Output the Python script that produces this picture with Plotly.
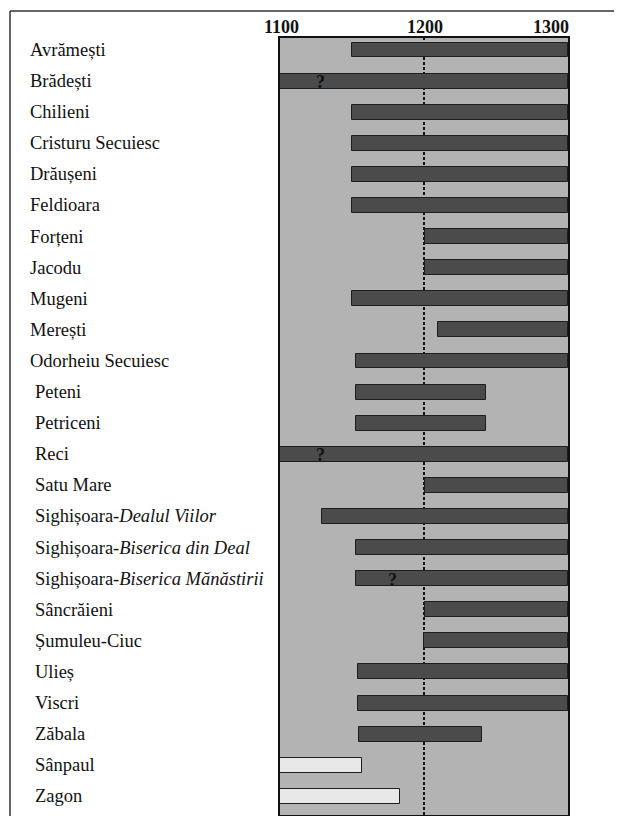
import plotly.graph_objects as go

# ---- data ----
sites = [
    "Avrămești", "Brădești", "Chilieni", "Cristuru Secuiesc", "Drăușeni",
    "Feldioara", "Forțeni", "Jacodu", "Mugeni", "Merești",
    "Odorheiu Secuiesc", "Peteni", "Petriceni", "Reci", "Satu Mare",
    "Sighișoara-Dealul Viilor", "Sighișoara-Biserica din Deal",
    "Sighișoara-Biserica Mănăstirii", "Sâncrăieni", "Șumuleu-Ciuc",
    "Ulieș", "Viscri", "Zăbala", "Sânpaul", "Zagon",
]
site_labels = [
    "Avrămești", "Brădești", "Chilieni", "Cristuru Secuiesc", "Drăușeni",
    "Feldioara", "Forțeni", "Jacodu", "Mugeni", "Merești",
    "Odorheiu Secuiesc", "Peteni", "Petriceni", "Reci", "Satu Mare",
    "Sighișoara-<i>Dealul Viilor</i>", "Sighișoara-<i>Biserica din Deal</i>",
    "Sighișoara-<i>Biserica Mănăstirii</i>", "Sâncrăieni", "Șumuleu-Ciuc",
    "Ulieș", "Viscri", "Zăbala", "Sânpaul", "Zagon",
]
start_year = [1150, 1100, 1150, 1150, 1150, 1150, 1201, 1201, 1150, 1210,
              1153, 1153, 1153, 1100, 1201, 1129, 1153, 1153, 1201, 1200,
              1154, 1154, 1155, 1100, 1100]
end_year = [1300, 1300, 1300, 1300, 1300, 1300, 1300, 1300, 1300, 1300,
            1300, 1243, 1243, 1300, 1300, 1300, 1300, 1300, 1300, 1300,
            1300, 1300, 1240, 1157, 1183]
group = ["dated"] * 23 + ["other", "other"]
uncertain_sites = ["Brădești", "Reci", "Sighișoara-Biserica Mănăstirii"]
uncertain_year = [1128, 1128, 1178]
tick_years = [1100, 1200, 1300]
tick_text = ["1100", "1200", "1300"]

# ---- styles ----
DARK = "#4b4b4b"
LIGHT = "#e8e8e8"
BG = "#b3b3b3"
SERIF = "Liberation Serif, Times New Roman, serif"

W, H = 614, 808          # page has 8px body margin
L, T, PW, PH = 272, 30, 288, 777

colors = [DARK if g == "dated" else LIGHT for g in group]
durations = [e - s for s, e in zip(start_year, end_year)]

fig = go.Figure()
fig.add_trace(go.Bar(
    y=sites, x=durations, base=start_year, orientation="h",
    marker=dict(color=colors, line=dict(color="#1e1e1e", width=1)),
    width=0.48, hoverinfo="skip", showlegend=False,
))

# vertical dotted line at 1200
fig.add_shape(type="line", xref="x", yref="paper", x0=1200, x1=1200, y0=0, y1=1,
              line=dict(color="#111111", width=2, dash="3px,2px"), layer="below")

# outer frame (top and left lines)
fx = (2 - L) / PW
fy = 1 + (T - 3) / PH
fig.add_shape(type="line", xref="paper", yref="paper", x0=fx, x1=1.3,
              y0=fy, y1=fy, line=dict(color="#333333", width=1.5))
fig.add_shape(type="line", xref="paper", yref="paper", x0=fx, x1=fx,
              y0=-0.05, y1=fy, line=dict(color="#333333", width=1.5))

annotations = []
# site labels
for i, lab in enumerate(site_labels):
    px = 20 if i < 11 else 25
    annotations.append(dict(
        text=lab, xref="paper", yref="y", x=(px - L) / PW, y=sites[i],
        xanchor="left", yanchor="middle", showarrow=False,
        font=dict(family=SERIF, size=18.5, color="#111111"),
    ))
# question marks
for s, yr in zip(uncertain_sites, uncertain_year):
    annotations.append(dict(
        text="<b>?</b>", x=yr, y=s, xref="x", yref="y", showarrow=False,
        yshift=-1, font=dict(family=SERIF, size=18, color="#111111"),
    ))
# top year ticks
for j, (tv, tt) in enumerate(zip(tick_years, tick_text)):
    last = j == len(tick_years) - 1
    annotations.append(dict(
        text=f"<b>{tt}</b>", x=tv, y=1, xref="x", yref="paper",
        xanchor="right" if last else "center", yanchor="bottom",
        xshift=3 if last else 1, yshift=-1, showarrow=False,
        font=dict(family=SERIF, size=18, color="#111111"),
    ))

fig.update_layout(
    width=W, height=H,
    margin=dict(l=L, r=W - L - PW, t=T, b=H - T - PH),
    paper_bgcolor="white", plot_bgcolor=BG,
    annotations=annotations, bargap=0,
)
fig.update_xaxes(range=[1100, 1300], showgrid=False, zeroline=False,
                 showticklabels=False, ticks="", showline=True, mirror=True,
                 linecolor="#111111", linewidth=2)
fig.update_yaxes(categoryorder="array", categoryarray=sites,
                 range=[24.6, -0.386], showgrid=False, zeroline=False,
                 showticklabels=False, ticks="", showline=True, mirror=True,
                 linecolor="#111111", linewidth=2)

fig.write_html("out.html")
